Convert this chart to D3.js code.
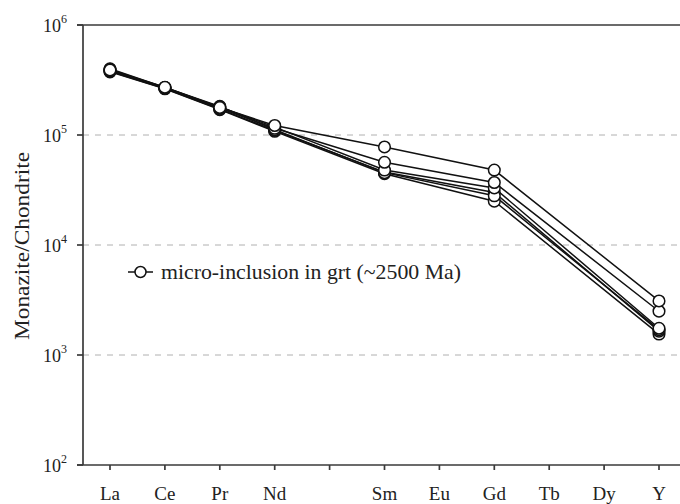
<!DOCTYPE html>
<html><head><meta charset="utf-8">
<script src="https://cdn.jsdelivr.net/npm/d3@7"></script>
<style>body{margin:0;background:#fff}svg{display:block}text{font-family:"Liberation Serif","DejaVu Serif",serif}</style>
</head><body><svg id="c" width="680" height="504"></svg>
<script>
const categories = ["La","Ce","Pr","Nd","","Sm","Eu","Gd","Tb","Dy","Y"];
const plotted = ["La","Ce","Pr","Nd","Sm","Gd","Y"];
const series1 = [390000, 272000, 178000, 122000, 77800, 48000, 3100];
const series2 = [385000, 270000, 175000, 115000, 56500, 37000, 2500];
const series3 = [395000, 268000, 180000, 118000, 48000, 33000, 1750];
const series4 = [380000, 265000, 172000, 110000, 46000, 30000, 1650];
const series5 = [375000, 263000, 170000, 108000, 44500, 25000, 1550];
const series6 = [400000, 270000, 182000, 112000, 45500, 28000, 1700];
const yTickExps = [2,3,4,5,6];
const legendLabel = "micro-inclusion in grt (~2500 Ma)";
const yTitle = "Monazite/Chondrite";

const svg = d3.select("#c");
const L = 83, T = 25, B = 465, R = 690;
const x = d3.scaleLinear().domain([0,10]).range([110, 659]);
const y = d3.scaleLog().domain([100, 1e6]).range([B, T]);

// gridlines
svg.append("g").selectAll("line").data([3,4,5]).join("line")
  .attr("x1", L).attr("x2", R).attr("y1", d=>y(10**d)).attr("y2", d=>y(10**d))
  .attr("stroke", "#b0b0b0").attr("stroke-width", 1).attr("stroke-dasharray", "6,6");

// axes
const ax = svg.append("g").attr("stroke", "#3a3a3a").attr("stroke-width", 1.7);
ax.append("line").attr("x1", L).attr("x2", L).attr("y1", T).attr("y2", B);
ax.append("line").attr("x1", L-6).attr("x2", R).attr("y1", B).attr("y2", B);
ax.append("line").attr("x1", L-6).attr("x2", R).attr("y1", T).attr("y2", T);
yTickExps.forEach(e => {
  ax.append("line").attr("x1", L-6).attr("x2", L).attr("y1", y(10**e)).attr("y2", y(10**e));
});
categories.forEach((c,i) => {
  ax.append("line").attr("x1", x(i)).attr("x2", x(i)).attr("y1", B).attr("y2", B+5);
});

// y tick labels
yTickExps.forEach(e => {
  const t = svg.append("text").attr("x", 67).attr("y", y(10**e)+7)
    .attr("text-anchor", "end").attr("font-size", 18).attr("fill", "#222");
  t.append("tspan").text("10");
  t.append("tspan").attr("font-size", 12).attr("dy", -9).text(e);
});
// x labels
svg.append("g").selectAll("text").data(categories).join("text")
  .attr("x", (d,i)=>x(i)).attr("y", 500).attr("text-anchor", "middle")
  .attr("font-size", 19).attr("fill", "#222").text(d=>d);

// y title
svg.append("text").attr("transform", `translate(29,${(T+B)/2+1}) rotate(-90)`)
  .attr("text-anchor", "middle").attr("font-size", 21).attr("fill", "#222")
  .attr("textLength", 188).attr("lengthAdjust", "spacingAndGlyphs").text(yTitle);

// series
const allSeries = [series5, series4, series6, series3, series2, series1];
const idx = plotted.map(p => categories.indexOf(p));
const line = d3.line().x((d,i)=>x(idx[i])).y(d=>y(d));
const g = svg.append("g");
allSeries.forEach(s => {
  g.append("path").attr("d", line(s)).attr("fill", "none")
    .attr("stroke", "#111").attr("stroke-width", 1.5);
});
allSeries.forEach(s => {
  g.append("g").selectAll("circle").data(s).join("circle")
    .attr("cx", (d,i)=>x(idx[i])).attr("cy", d=>y(d)).attr("r", 5.8)
    .attr("fill", "#fff").attr("stroke", "#111").attr("stroke-width", 1.5);
});

// legend
svg.append("line").attr("x1", 128).attr("x2", 153).attr("y1", 272).attr("y2", 272)
  .attr("stroke", "#111").attr("stroke-width", 1.5);
svg.append("circle").attr("cx", 140.5).attr("cy", 272).attr("r", 5.5)
  .attr("fill", "#fff").attr("stroke", "#111").attr("stroke-width", 1.5);
svg.append("text").attr("x", 161).attr("y", 279).attr("font-size", 21)
  .attr("fill", "#222").attr("textLength", 300).attr("lengthAdjust", "spacingAndGlyphs")
  .text(legendLabel);
</script></body></html>
